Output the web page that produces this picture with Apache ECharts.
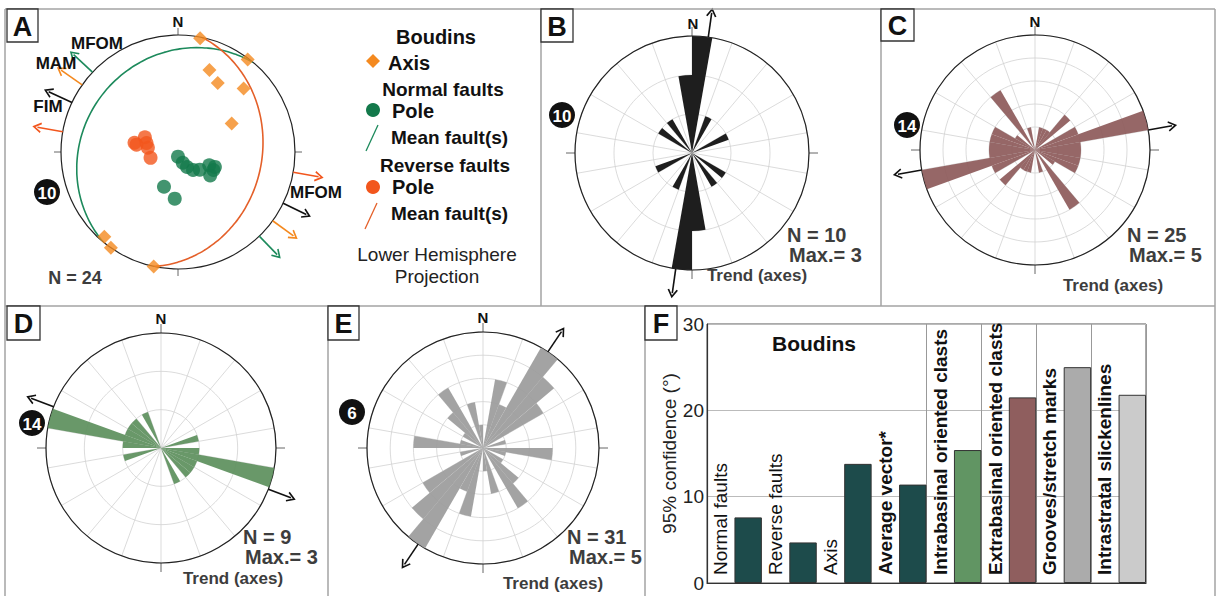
<!DOCTYPE html>
<html>
<head>
<meta charset="utf-8">
<title>Boudins - stereonet, rose diagrams and confidence</title>
<script src="https://cdn.jsdelivr.net/npm/echarts@6/dist/echarts.min.js"></script>
<style>
  html, body { margin: 0; padding: 0; background: #fff; }
  #main { width: 1220px; height: 596px; }
</style>
</head>
<body>
<div id="main"></div>
<script>
// ---------- panel A : stereonet, points as [radius 0..1, azimuth] ----------
var axisPts = [[0.99, 11], [0.99, 37], [0.75, 21], [0.68, 30], [0.78, 46], [0.52, 62], [0.96, 221], [1.0, 215], [1.0, 192]];
var normalPoles = [[0.04, 180], [0.10, 156], [0.15, 149], [0.20, 140], [0.24, 129], [0.29, 113], [0.34, 117], [0.34, 126], [0.34, 112], [0.32, 202], [0.40, 184]];
var reversePoles = [[0.36, 280], [0.31, 294], [0.28, 286], [0.26, 278], [0.24, 258], [0.38, 282]];
var meanNormal = [310, 20];   // dip direction, dip
var meanReverse = [102, 29];
var arrowNormal = [313, 136]; // azimuths of the arrows round the net
var arrowAxis = [305, 126];
var arrowFIM = [295, 116];
var arrowReverse = [280, 100];

// ---------- rose diagrams: counts per 10 deg bin, 0-180 (axial, mirrored to 180-360) ----------
var binsB = [3, 0, 1, 0, 0, 0, 1, 0, 0, 0, 0, 0, 1, 0, 1, 0, 0, 2];
var binsC = [0, 1, 1, 1, 2, 0, 2, 5, 2, 2, 2, 2, 1, 0, 3, 0, 1, 0];
var binsD = [0, 0, 0, 0, 0, 0, 0, 1, 0, 1, 3, 1, 1, 1, 0, 1, 0, 0];
var binsE = [0, 3, 2, 5, 4, 3, 0, 1, 0, 3, 1, 0, 1, 2, 3, 0, 2, 1];
var arrowB = [8, 188];
var arrowC = [80, 260];
var arrowD = [291, 111];
var arrowE = [34, 214];
var roseN = [10, 25, 9, 31];
var roseMax = [3, 5, 3, 5];
var roseBadge = ['10', '14', '14', '6'];

// ---------- panel F ----------
var fCats = ['Normal faults', 'Reverse faults', 'Axis', 'Average vector*', 'Intrabasinal oriented clasts',
             'Extrabasinal oriented clasts', 'Grooves/stretch marks', 'Intrastratal slickenlines'];
var fVals = [7.6, 4.7, 13.8, 11.4, 15.4, 21.5, 25.0, 21.8];

var FONT = 'Liberation Sans, Arial, Helvetica, sans-serif';
var D2R = Math.PI / 180;
var GREEN = '#13794b', ORANGE = '#f4891f', RED = '#f2561d';
var OUT = 1.3; // outer (arrow) polar is 30% bigger than the net

function greatCircle(plane) {
  // equal-area, lower hemisphere
  var pts = [];
  for (var b = -90; b <= 90; b += 3) {
    var p = Math.atan(Math.tan(plane[1] * D2R) * Math.cos(b * D2R)) / D2R;
    pts.push([Math.SQRT2 * Math.sin((90 - p) / 2 * D2R), plane[0] + b]);
  }
  return pts;
}

function arrow(polarIndex, az, r0, r1, color) {
  return {
    type: 'line', coordinateSystem: 'polar', polarIndex: polarIndex, silent: true, z: 6,
    lineStyle: { color: color, width: 1.6 },
    data: [
      { value: [r0, az], symbol: 'none' },
      { value: [r1, az], symbol: 'path://M0,9 L5,0 L10,9', symbolSize: [9, 8], symbolRotate: -az,
        symbolKeepAspect: true, itemStyle: { color: 'none', borderColor: color, borderWidth: 1.6 } }
    ]
  };
}

var polar = [], angleAxis = [], radiusAxis = [], series = [];

function hiddenPolar(center, radius, max) {
  var idx = polar.length;
  polar.push({ center: center, radius: [0, radius] });
  angleAxis.push({ polarIndex: idx, type: 'value', min: 0, max: 360, startAngle: 90, clockwise: true, show: false,
    axisLine: { show: false }, axisTick: { show: false }, axisLabel: { show: false }, splitLine: { show: false } });
  radiusAxis.push({ polarIndex: idx, type: 'value', min: 0, max: max, show: false,
    axisLine: { show: false }, axisTick: { show: false }, axisLabel: { show: false }, splitLine: { show: false } });
  return idx;
}

// panel A polar
polar.push({ center: [178, 152], radius: [0, 117] });
angleAxis.push({ polarIndex: 0, type: 'value', min: 0, max: 360, interval: 90, startAngle: 90, clockwise: true,
  axisLine: { lineStyle: { color: '#222', width: 1.2 } }, axisTick: { length: 7, lineStyle: { color: '#666' } },
  axisLabel: { show: false }, splitLine: { show: false } });
radiusAxis.push({ polarIndex: 0, type: 'value', min: 0, max: 1, axisLine: { show: false }, axisTick: { show: false },
  axisLabel: { show: false }, splitLine: { show: false } });
var aOuter = hiddenPolar([178, 152], 117 * OUT, OUT);

series.push({ type: 'line', coordinateSystem: 'polar', polarIndex: 0, symbol: 'none', smooth: true,
  lineStyle: { color: '#1d8a5c', width: 1.6 }, data: greatCircle(meanNormal), z: 3 });
series.push({ type: 'line', coordinateSystem: 'polar', polarIndex: 0, symbol: 'none', smooth: true,
  lineStyle: { color: '#e4602a', width: 1.6 }, data: greatCircle(meanReverse), z: 3 });
series.push({ type: 'scatter', coordinateSystem: 'polar', polarIndex: 0, clip: false, symbol: 'diamond', symbolSize: 14,
  itemStyle: { color: ORANGE }, data: axisPts, z: 4 });
series.push({ type: 'scatter', coordinateSystem: 'polar', polarIndex: 0, clip: false, symbol: 'circle', symbolSize: 14,
  itemStyle: { color: GREEN }, data: normalPoles, z: 4 });
series.push({ type: 'scatter', coordinateSystem: 'polar', polarIndex: 0, clip: false, symbol: 'circle', symbolSize: 14,
  itemStyle: { color: RED }, data: reversePoles, z: 4 });
[[arrowNormal, '#1d8a5c'], [arrowAxis, ORANGE], [arrowFIM, '#111'], [arrowReverse, RED]].forEach(function (a) {
  a[0].forEach(function (az) { series.push(arrow(aOuter, az, 1.0, 1.22, a[1])); });
});

// rose diagrams
var roses = [
  { bins: binsB, arrows: arrowB, color: '#1e1e1e', opacity: 1, c: [692, 153], r: 117 },
  { bins: binsC, arrows: arrowC, color: '#8d5a5a', opacity: 0.92, c: [1035, 150], r: 115 },
  { bins: binsD, arrows: arrowD, color: '#5c8f5c', opacity: 0.92, c: [161, 448], r: 115 },
  { bins: binsE, arrows: arrowE, color: '#9b9b9b', opacity: 0.92, c: [483, 448], r: 116 }
];
var binNames = [];
for (var i = 0; i < 36; i++) binNames.push(i * 10 + '-' + (i * 10 + 10));

roses.forEach(function (rs, k) {
  var gi = polar.length, bi = gi + 1, m = roseMax[k];
  polar.push({ center: rs.c, radius: [0, rs.r] });
  polar.push({ center: rs.c, radius: [0, rs.r] });
  angleAxis.push({ polarIndex: gi, type: 'value', min: 0, max: 360, interval: 20, startAngle: 90, clockwise: true,
    axisLine: { show: false }, axisTick: { show: false }, axisLabel: { show: false },
    splitLine: { lineStyle: { color: '#d2d2d2', width: 0.8 } } });
  radiusAxis.push({ polarIndex: gi, type: 'value', min: 0, max: m, interval: 1,
    axisLine: { show: false }, axisTick: { show: false }, axisLabel: { show: false },
    splitLine: { lineStyle: { color: '#d2d2d2', width: 0.8 } } });
  angleAxis.push({ polarIndex: bi, type: 'category', data: binNames, startAngle: 90, clockwise: true, boundaryGap: true,
    axisLine: { lineStyle: { color: '#222', width: 1.2 } },
    axisTick: { show: true, interval: 8, length: 9, inside: false, lineStyle: { color: '#666' } },
    axisLabel: { show: false }, splitLine: { show: false } });
  radiusAxis.push({ polarIndex: bi, type: 'value', min: 0, max: m,
    axisLine: { show: false }, axisTick: { show: false }, axisLabel: { show: false }, splitLine: { show: false } });
  series.push({ type: 'bar', coordinateSystem: 'polar', polarIndex: bi, barCategoryGap: '0%',
    itemStyle: { color: rs.color, opacity: rs.opacity }, data: rs.bins.concat(rs.bins), silent: true });
  var oi = hiddenPolar(rs.c, rs.r * OUT, m * OUT);
  rs.arrows.forEach(function (az) { series.push(arrow(oi, az, m, m * 1.21, '#111')); });
});

// panel F
var fColors = ['#1d4b4b', '#1d4b4b', '#1d4b4b', '#1d4b4b', '#619563', '#8f5e5e', '#ababab', '#cbcbcb'];
series.push({ type: 'bar', xAxisIndex: 0, yAxisIndex: 0, barGap: '0%', barCategoryGap: '0%', silent: true,
  itemStyle: { color: 'transparent' },
  label: { show: true, position: 'insideBottom', distance: 8, rotate: 90, align: 'left', verticalAlign: 'middle',
    formatter: '{b}', fontSize: 19, fontFamily: FONT, color: '#111' },
  data: fCats.map(function (c, i) { return { value: 0, label: { fontWeight: i >= 3 ? 'bold' : 'normal' } }; }) });
series.push({ type: 'bar', xAxisIndex: 0, yAxisIndex: 0, barGap: '0%', barCategoryGap: '0%', silent: true,
  data: fVals.map(function (v, i) { return { value: v, itemStyle: { color: fColors[i], borderColor: '#333', borderWidth: 1 } }; }) });

// ---------- annotations ----------
var g = [];
function line(x1, y1, x2, y2, color, w) {
  g.push({ type: 'line', silent: true, z: 30, shape: { x1: x1, y1: y1, x2: x2, y2: y2 }, style: { stroke: color, lineWidth: w } });
}
function text(x, y, s, size, weight, color, align) {
  g.push({ type: 'text', silent: true, z: 70, x: x, y: y, style: { text: s, fontSize: size, fontWeight: weight || 'normal',
    fontFamily: FONT, fill: color || '#111', align: align || 'center', verticalAlign: 'middle' } });
}
function letterBox(x, y, w, h, s) {
  g.push({ type: 'rect', silent: true, z: 60, shape: { x: x, y: y, width: w, height: h }, style: { fill: '#fff', stroke: '#333', lineWidth: 1.3 } });
  text(x + w / 2, y + h / 2 + 1, s, 27, 'bold', '#111');
}
function badge(cx, cy, s) {
  g.push({ type: 'circle', silent: true, z: 65, shape: { cx: cx, cy: cy, r: 13 }, style: { fill: '#111' } });
  text(cx, cy + 1, s, 17, 'bold', '#fff');
}

// frame
var FR = '#a3a3a3';
line(5, 9, 1215, 9, FR, 1.5); line(5, 9, 5, 596, FR, 1.5); line(1215, 9, 1215, 596, FR, 1.5);
line(5, 306, 1215, 306, FR, 1.5);
line(541, 9, 541, 306, FR, 1.5); line(881, 9, 881, 306, FR, 1.5);
line(328, 306, 328, 596, FR, 1.5); line(645, 306, 645, 596, FR, 1.5);
letterBox(7, 9, 31, 33, 'A'); letterBox(541, 9, 32, 33, 'B'); letterBox(881, 9, 33, 32, 'C');
letterBox(7, 306, 33, 34, 'D'); letterBox(328, 306, 31, 34, 'E'); letterBox(645, 306, 32, 34, 'F');

// panel A texts and legend
text(178, 21, 'N', 15, 'bold');
text(97, 43, 'MFOM', 17, 'bold'); text(56, 63, 'MAM', 17, 'bold'); text(48, 106, 'FIM', 17, 'bold');
text(316, 192, 'MFOM', 17, 'bold');
badge(47, 192, '10');
text(75, 278, 'N = 24', 18, 'bold', '#3d3d3d');
text(436, 37, 'Boudins', 20, 'bold');
g.push({ type: 'polygon', silent: true, z: 60, shape: { points: [[373, 54], [380, 61], [373, 68], [366, 61]] }, style: { fill: ORANGE } });
text(388, 63, 'Axis', 20, 'bold', '#111', 'left');
text(443, 89, 'Normal faults', 19, 'bold');
g.push({ type: 'circle', silent: true, z: 60, shape: { cx: 373, cy: 110, r: 7 }, style: { fill: GREEN } });
text(392, 111, 'Pole', 20, 'bold', '#111', 'left');
line(366, 151, 378, 125, '#1d8a5c', 1.3);
text(391, 137, 'Mean fault(s)', 19, 'bold', '#111', 'left');
text(445, 165, 'Reverse faults', 19, 'bold');
g.push({ type: 'circle', silent: true, z: 60, shape: { cx: 373, cy: 187, r: 7 }, style: { fill: RED } });
text(392, 187, 'Pole', 20, 'bold', '#111', 'left');
line(365, 229, 377, 203, '#e4602a', 1.3);
text(391, 213, 'Mean fault(s)', 19, 'bold', '#111', 'left');
text(437, 254, 'Lower Hemisphere', 19, 'normal', '#222');
text(437, 276, 'Projection', 19, 'normal', '#222');

// rose texts
var roseTxt = [
  { n: [693, 23], badge: [562, 115], stat: [787, 235], trend: [757, 275] },
  { n: [1035, 21], badge: [907, 125], stat: [1127, 235], trend: [1113, 285] },
  { n: [161, 318], badge: [32, 423], stat: [243, 537], trend: [233, 578] },
  { n: [483, 317], badge: [352, 412], stat: [567, 537], trend: [553, 583] }
];
roseTxt.forEach(function (t, k) {
  text(t.n[0], t.n[1], 'N', 15, 'bold');
  badge(t.badge[0], t.badge[1], roseBadge[k]);
  text(t.stat[0], t.stat[1], 'N = ' + roseN[k], 20, 'bold', '#3d3d3d', 'left');
  text(t.stat[0] + 2, t.stat[1] + 20, 'Max.= ' + roseMax[k], 20, 'bold', '#3d3d3d', 'left');
  text(t.trend[0], t.trend[1], 'Trend (axes)', 17, 'bold', '#3d3d3d');
});
text(814, 343, 'Boudins', 21, 'bold');

var chart = echarts.init(document.getElementById('main'), null, { renderer: 'svg' });
chart.setOption({
  animation: false,
  backgroundColor: '#fff',
  textStyle: { fontFamily: FONT },
  polar: polar,
  angleAxis: angleAxis,
  radiusAxis: radiusAxis,
  grid: [{ left: 707, top: 324, width: 439, height: 259, show: true, borderColor: '#555', borderWidth: 1 }],
  xAxis: [{ type: 'category', data: fCats, boundaryGap: true,
    axisLine: { lineStyle: { color: '#333', width: 1.2 } }, axisTick: { show: false }, axisLabel: { show: false },
    splitLine: { show: true, interval: function (idx) { return idx >= 4; }, lineStyle: { color: '#999', width: 1 } } }],
  yAxis: [{ type: 'value', min: 0, max: 30, interval: 10,
    name: '95% confidence (°)', nameLocation: 'middle', nameRotate: 90, nameGap: 15,
    nameTextStyle: { fontSize: 19, color: '#222', fontFamily: FONT },
    axisLine: { show: true, lineStyle: { color: '#333', width: 1.2 } }, axisTick: { show: false },
    axisLabel: { fontSize: 19, color: '#222', margin: 3, fontFamily: FONT },
    splitLine: { lineStyle: { color: '#bbb', width: 1 } } }],
  series: series,
  graphic: g
});
</script>
</body>
</html>
